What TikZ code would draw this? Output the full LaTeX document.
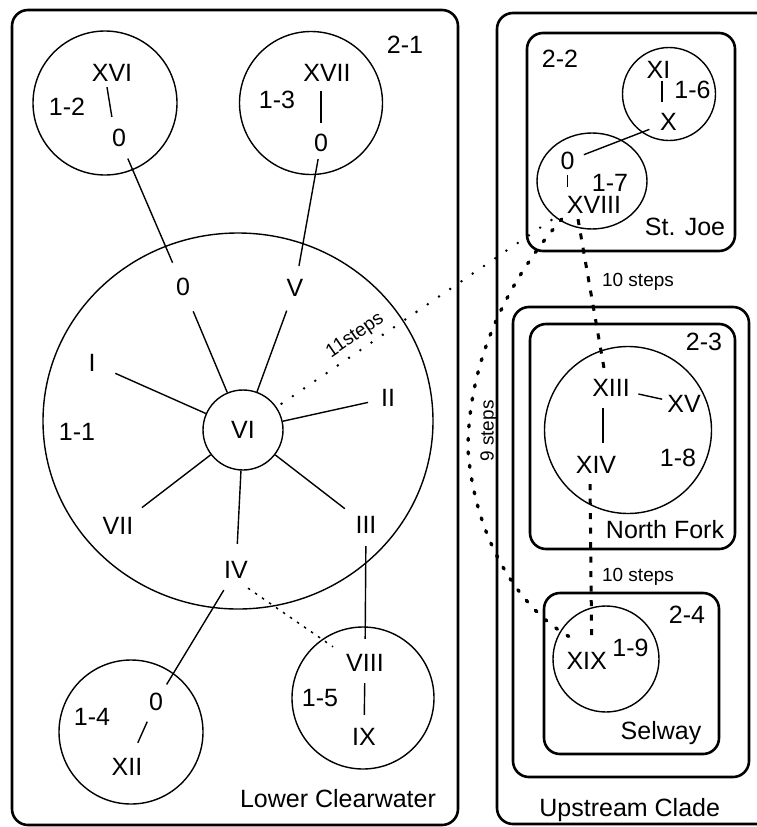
\documentclass[tikz,border=0pt]{standalone}
\usepackage{fontspec}
\setmainfont{Liberation Sans}
\usetikzlibrary{shapes.geometric}
\begin{document}
\begin{tikzpicture}[x=1pt,y=-1pt,
 lbl/.style={inner sep=5pt,font=\fontsize{25}{29}\selectfont,text height=17.9pt,text depth=0pt},
 slbl/.style={inner sep=0pt,font=\fontsize{19}{22}\selectfont,text height=13.6pt,text depth=0pt},
 grp/.style={draw,line width=2.6pt,rounded corners=16pt},
 ring/.style={draw,circle,line width=1.4pt,inner sep=0pt},
 oval/.style={draw,ellipse,line width=1.4pt,inner sep=0pt},
 link/.style={line width=1.4pt},
 fine/.style={line width=1.5pt,dash pattern=on 2.5pt off 6pt},
 smalldots/.style={line width=2.8pt,line cap=round,dash pattern=on 0pt off 13.6pt},
 bigdots/.style={line width=3.4pt,line cap=round,dash pattern=on 2pt off 11.5pt},
 dashy/.style={line width=3pt,dash pattern=on 6pt off 8.5pt},
]
\path[use as bounding box] (0,0) rectangle (757,827);
\clip (0,0) rectangle (757,827);

% group boxes
\draw[grp] (12,10) rectangle (458,825);
\draw[grp] (497,13) rectangle (790,824);
\draw[grp] (527,33) rectangle (735,251);
\draw[grp] (513,307) rectangle (749,777);
\draw[grp] (530,324) rectangle (735,549);
\draw[grp] (544,593) rectangle (719,754);

% clade circles
\node[ring,minimum size=144pt] (c12) at (105,103) {};
\node[ring,minimum size=143pt] (c13) at (311,103) {};
\node[oval,minimum width=390pt,minimum height=376pt] (c11) at (238,421) {};
\node[ring,minimum size=144pt] (c14) at (131,732) {};
\node[ring,minimum size=142pt] (c15) at (363,698) {};
\node[ring,minimum size=93pt] (c16) at (669,94) {};
\node[oval,minimum width=110pt,minimum height=96pt] (c17) at (592,181) {};
\node[ring,minimum size=167pt] (c18) at (628,430) {};
\node[ring,minimum size=106pt] (c19) at (606,659) {};
\node[lbl,ring,minimum size=80pt] (n6) at (243,430) {VI};

% left labels
\node[lbl] (g21) at (405,45) {2-1};
\node[lbl] (n16) at (112,73) {XVI};
\node[lbl] (l12) at (67,107) {1-2};
\node[lbl] (z1) at (119,138) {0};
\node[lbl] (n17) at (327,73) {XVII};
\node[lbl] (l13) at (277,100) {1-3};
\node[lbl] (z2) at (321,143) {0};
\node[lbl] (z3) at (183,287) {0};
\node[lbl] (n5) at (295,288) {V};
\node[lbl] (n1) at (92,363) {I};
\node[lbl] (n2) at (388,398) {II};
\node[lbl] (l11) at (77,432) {1-1};
\node[lbl] (n7) at (118,526) {VII};
\node[lbl] (n3) at (366,525) {III};
\node[lbl] (n4) at (236,570) {IV};
\node[lbl] (l14) at (92,717) {1-4};
\node[lbl] (z4) at (156,702) {0};
\node[lbl] (n12) at (127,767) {XII};
\node[lbl] (n8) at (365,663) {VIII};
\node[lbl] (l15) at (320,698) {1-5};
\node[lbl] (n9) at (364,737) {IX};
\node[lbl] (tLC) at (338,799) {Lower Clearwater};

% right labels
\node[lbl] (g22) at (560,59) {2-2};
\node[lbl] (n11) at (658.5,70) {XI};
\node[lbl] (l16) at (692.5,90) {1-6};
\node[lbl] (n10) at (668.5,122) {X};
\node[lbl] (z5) at (567.5,161) {0};
\node[lbl] (l17) at (610,182.5) {1-7};
\node[lbl] (n18) at (594,205) {XVIII};
\node[lbl] (tSJ) at (685,226.5) {St. Joe};
\node[slbl] (s1) at (638,279.5) {10 steps};
\node[lbl] (g23) at (704,341.5) {2-3};
\node[lbl] (n13) at (611,388) {XIII};
\node[lbl] (n15) at (684,404) {XV};
\node[lbl] (n14) at (596,465) {XIV};
\node[lbl] (l18) at (678,458) {1-8};
\node[lbl] (tNF) at (665,530) {North Fork};
\node[slbl] (s2) at (638,575) {10 steps};
\node[lbl] (g24) at (687,614.5) {2-4};
\node[lbl] (n19) at (586.7,661) {XIX};
\node[lbl] (l19) at (630.5,648) {1-9};
\node[lbl] (tSW) at (661,730.5) {Selway};
\node[lbl] (tUC) at (629.7,808) {Upstream Clade};
\node[slbl,rotate=34.6] (s3) at (354,334) {11steps};
\node[slbl,rotate=90] (s4) at (486.7,431) {9 steps};

% solid connectors
\draw[link,shorten >=7pt] ([xshift=-5pt]n16.south) -- ([xshift=-6pt]z1.north);
\draw[link,shorten <=4pt,shorten >=6pt] (z2.north |- n17.south) -- (z2.north);
\draw[link,shorten <=7pt,shorten >=11pt] (z1) -- (z3);
\draw[link,shorten <=2pt,shorten >=8pt] (z2) -- (n5);
\draw[link,shorten <=11pt] (z3) -- (n6);
\draw[link,shorten <=9pt] (n5) -- (n6);
\draw[link,shorten <=16pt] (n1) -- (n6);
\draw[link,shorten <=8pt] (n2) -- (n6);
\draw[link,shorten <=7pt] (n7) -- (n6);
\draw[link,shorten <=7pt] (n3) -- (n6);
\draw[link,shorten <=12pt] (n4) -- (n6);
\draw[link,shorten <=7pt,shorten >=4pt] (n4) -- (z4);
\draw[link,shorten <=6pt,shorten >=11pt] (z4) -- (n12);
\draw[link,shorten <=7pt,shorten >=10pt] (n3) -- (n8);
\draw[link,shorten <=6pt,shorten >=8pt] (n8) -- (n9);
\draw[link,shorten <=-3pt,shorten >=6pt] ([xshift=3.5pt]n11.south) -- ([xshift=3.5pt]n11.south |- n10.north);
\draw[link,shorten <=6pt,shorten >=4.5pt] (n10) -- (z5);
\draw[link,shorten >=4pt] (z5.south) -- (z5.south |- n18.north);
\draw[link,shorten <=3.5pt] (n13) -- (n15);
\draw[link,shorten <=6pt,shorten >=8pt] ([xshift=-8pt]n13.south) -- ([xshift=-8pt]n13.south |- n14.north);

% dotted connectors
\draw[fine] ([xshift=-5pt,yshift=-4pt]n4.south east) -- ([xshift=-8pt,yshift=2pt]n8.north west);
\draw[smalldots,shorten <=6pt,shorten >=3pt] (n6) -- ([yshift=-8pt]n18.west);
\coordinate (bend) at (468,450);
\draw[bigdots] (n18.south west) .. controls (500,290) and (468,370) .. (bend)
  .. controls (475,540) and (520,610) .. ([xshift=10pt,yshift=9pt]n19.north west);
\draw[dashy,shorten >=6pt] ([xshift=-16pt]n18.south) -- ([xshift=-6pt]n13.north);
\draw[dashy,shorten <=5pt,shorten >=6pt] ([xshift=-6pt]n14.south) -- ([xshift=5pt]n19.north);
\end{tikzpicture}
\end{document}
